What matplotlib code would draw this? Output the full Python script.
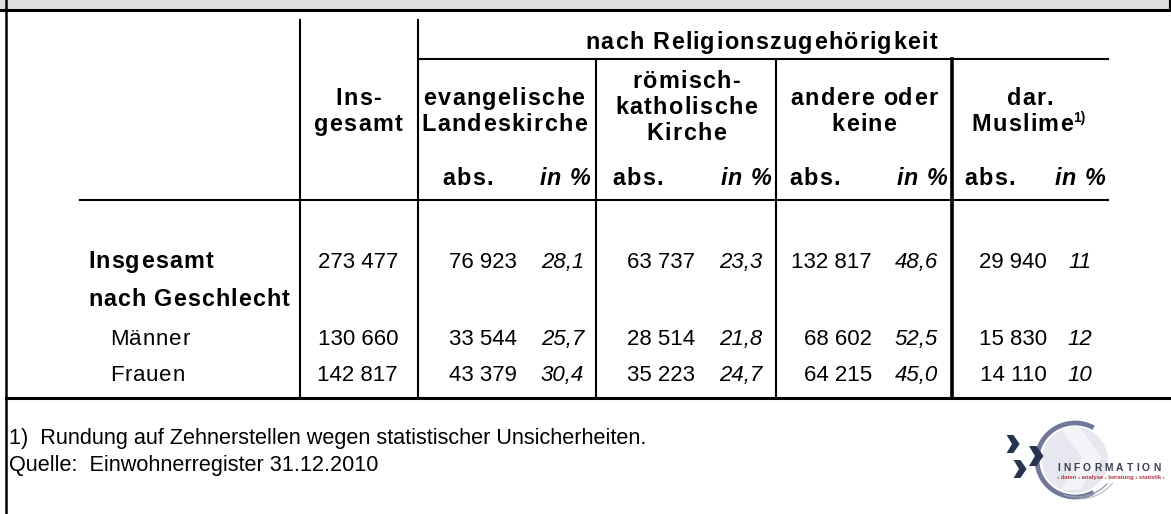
import matplotlib
matplotlib.use('Agg')
import matplotlib.pyplot as plt
from matplotlib.patches import Arc, Polygon, Rectangle, Circle

plt.rcParams['font.family'] = ['Liberation Sans', 'DejaVu Sans']

# Daten
row_labels = ['Insgesamt', 'Männer', 'Frauen']
insgesamt = [273477, 130660, 142817]
evang_abs = [76923, 33544, 43379]
evang_pct = [28.1, 25.7, 30.4]
rk_abs = [63737, 28514, 35223]
rk_pct = [23.3, 21.8, 24.7]
andere_abs = [132817, 68602, 64215]
andere_pct = [48.6, 52.5, 45.0]
muslime_abs = [29940, 15830, 14110]
muslime_pct = [11, 12, 10]

group_heads = [['evangelische', 'Landeskirche'],
               ['römisch-', 'katholische', 'Kirche'],
               ['andere oder', 'keine'],
               ['dar.', 'Muslime']]
footnote = '1)  Rundung auf Zehnerstellen wegen statistischer Unsicherheiten.'
quelle = 'Quelle:  Einwohnerregister 31.12.2010'

W, H = 1171, 514
fig = plt.figure(figsize=(W / 100, H / 100), dpi=100)
ax = fig.add_axes([0, 0, 1, 1])
ax.set_xlim(0, W)
ax.set_ylim(H, 0)
ax.axis('off')
renderer = fig.canvas.get_renderer()

_cache = {}
def char_w(c, size, weight, style):
	key = (c, size, weight, style)
	if key not in _cache:
		t1 = ax.text(0, 0, 'x' + c + 'x', fontsize=size, fontweight=weight, fontstyle=style)
		t2 = ax.text(0, 0, 'xx', fontsize=size, fontweight=weight, fontstyle=style)
		_cache[key] = t1.get_window_extent(renderer).width - t2.get_window_extent(renderer).width
		t1.remove()
		t2.remove()
	return _cache[key]

def spaced(x, y, s, size=16.8, weight='bold', style='normal', sp=1.3, ha='left', color='black'):
	ws = [char_w(c, size, weight, style) for c in s]
	total = sum(ws) + sp * (len(s) - 1)
	if ha == 'center':
		x0 = x - total / 2
	elif ha == 'right':
		x0 = x - total
	else:
		x0 = x
	for c, w in zip(s, ws):
		if c != ' ':
			ax.text(x0, y, c, fontsize=size, fontweight=weight, fontstyle=style,
			        ha='left', va='baseline', color=color)
		x0 += w + sp
	return x0

def fmt_abs(v):
	return f'{v:,}'.replace(',', ' ')

def fmt_pct(v):
	if isinstance(v, float):
		return f'{v:.1f}'.replace('.', ',')
	return str(v)

# Rahmen
ax.add_patch(Rectangle((0, 0), W, 10, color='#dedede', lw=0))
ax.plot([0, W], [10, 10], color='black', lw=2.2)
ax.plot([6, 6], [0, H], color='black', lw=1.8)
ax.plot([W - 1, W - 1], [0, 10], color='black', lw=1.5)
ax.plot([6, W], [398, 398], color='black', lw=2.2)

# Tabellenlinien
ax.plot([300, 300], [20, 396], color='black', lw=1.5)
ax.plot([418, 418], [20, 396], color='black', lw=1.5)
ax.plot([596, 596], [59, 396], color='black', lw=1.5)
ax.plot([776, 776], [59, 396], color='black', lw=1.5)
ax.plot([952, 952], [59, 396], color='black', lw=2.6)
ax.plot([418, 1108], [59, 59], color='black', lw=1.5)
ax.plot([80, 1108], [200, 200], color='black', lw=1.5)

# Kopf
spaced(761, 49, 'nach Religionszugehörigkeit', ha='center')
spaced(358, 105, 'Ins-', ha='center')
spaced(358, 131, 'gesamt', ha='center')
centers = [504, 686, 864, 1030]
for cx, lines in zip(centers, group_heads):
	if len(lines) == 3:
		ys = [88, 114, 140]
	else:
		ys = [105, 131]
	for yy, s in zip(ys, lines):
		end = spaced(cx - (8 if s == 'Muslime' else 0), yy, s, ha='center')
		if s == 'Muslime':
			ax.text(end - 0.5, yy - 9, '1)', fontsize=10, fontweight='bold', ha='left', va='baseline')

abs_x = [468, 638, 815, 990]
pct_x = [565, 746, 922, 1080]
for xa, xp in zip(abs_x, pct_x):
	spaced(xa, 185, 'abs.', ha='center')
	spaced(xp, 185, 'in %', ha='center', sp=1.0, style='italic')

# Vorspalte
spaced(88, 268, row_labels[0], sp=1.2)
spaced(88, 306, 'nach Geschlecht', sp=1.0)
spaced(110, 345, row_labels[1], size=16, weight='normal', sp=0.8)
spaced(110, 381, row_labels[2], size=16, weight='normal', sp=0.8)

# Werte
row_y = [268, 345, 381]
cols = [(insgesamt, 398, 'normal', fmt_abs),
        (evang_abs, 517, 'normal', fmt_abs), (evang_pct, 584, 'italic', fmt_pct),
        (rk_abs, 695, 'normal', fmt_abs), (rk_pct, 762, 'italic', fmt_pct),
        (andere_abs, 872, 'normal', fmt_abs), (andere_pct, 938, 'italic', fmt_pct),
        (muslime_abs, 1047, 'normal', fmt_abs), (muslime_pct, 1092, 'italic', fmt_pct)]
for vals, xr, style, f in cols:
	for yy, v in zip(row_y, vals):
		ax.text(xr, yy, f(v), fontsize=16, fontstyle=style, ha='right', va='baseline')

# Fussnoten
ax.text(9, 444, footnote, fontsize=15.6, ha='left', va='baseline')
ax.text(9, 471, quelle, fontsize=15.6, ha='left', va='baseline')

# Logo
ax.add_patch(Circle((1075, 460), 33, color='#e6e7ef', lw=0))
ax.add_patch(Polygon([[1060, 428], [1080, 428], [1102, 458], [1080, 490], [1060, 490], [1082, 458]],
                     closed=True, color='#f4f4f8', lw=0))
ax.add_patch(Arc((1075, 460), 76, 74, theta1=60, theta2=300, color='#6f7899', lw=3.4))
ax.add_patch(Arc((1077, 458), 80, 78, theta1=40, theta2=110, color='#9aa0b8', lw=1.0))
ax.add_patch(Arc((1079, 459), 84, 80, theta1=35, theta2=90, color='#b6bacb', lw=0.8))
navy = '#27344f'
for cx0, cy0, s in [(1012, 444, 9), (1035, 456, 10), (1019, 469, 9)]:
	ax.add_patch(Polygon([[cx0 - s * 0.6, cy0 - s], [cx0 + s * 0.15, cy0 - s], [cx0 + s * 0.85, cy0],
	                      [cx0 + s * 0.15, cy0 + s], [cx0 - s * 0.6, cy0 + s], [cx0, cy0]],
	                     closed=True, color=navy, lw=0))
spaced(1057, 471, 'INFORMATION', size=7.4, sp=3.2, color='#3a3f55')
ax.text(1057, 479, '› daten › analyse › beratung › statistik ›', fontsize=4.2,
        color='#b03845', ha='left', va='baseline', fontweight='bold')

fig.savefig('out.png', dpi=100)
